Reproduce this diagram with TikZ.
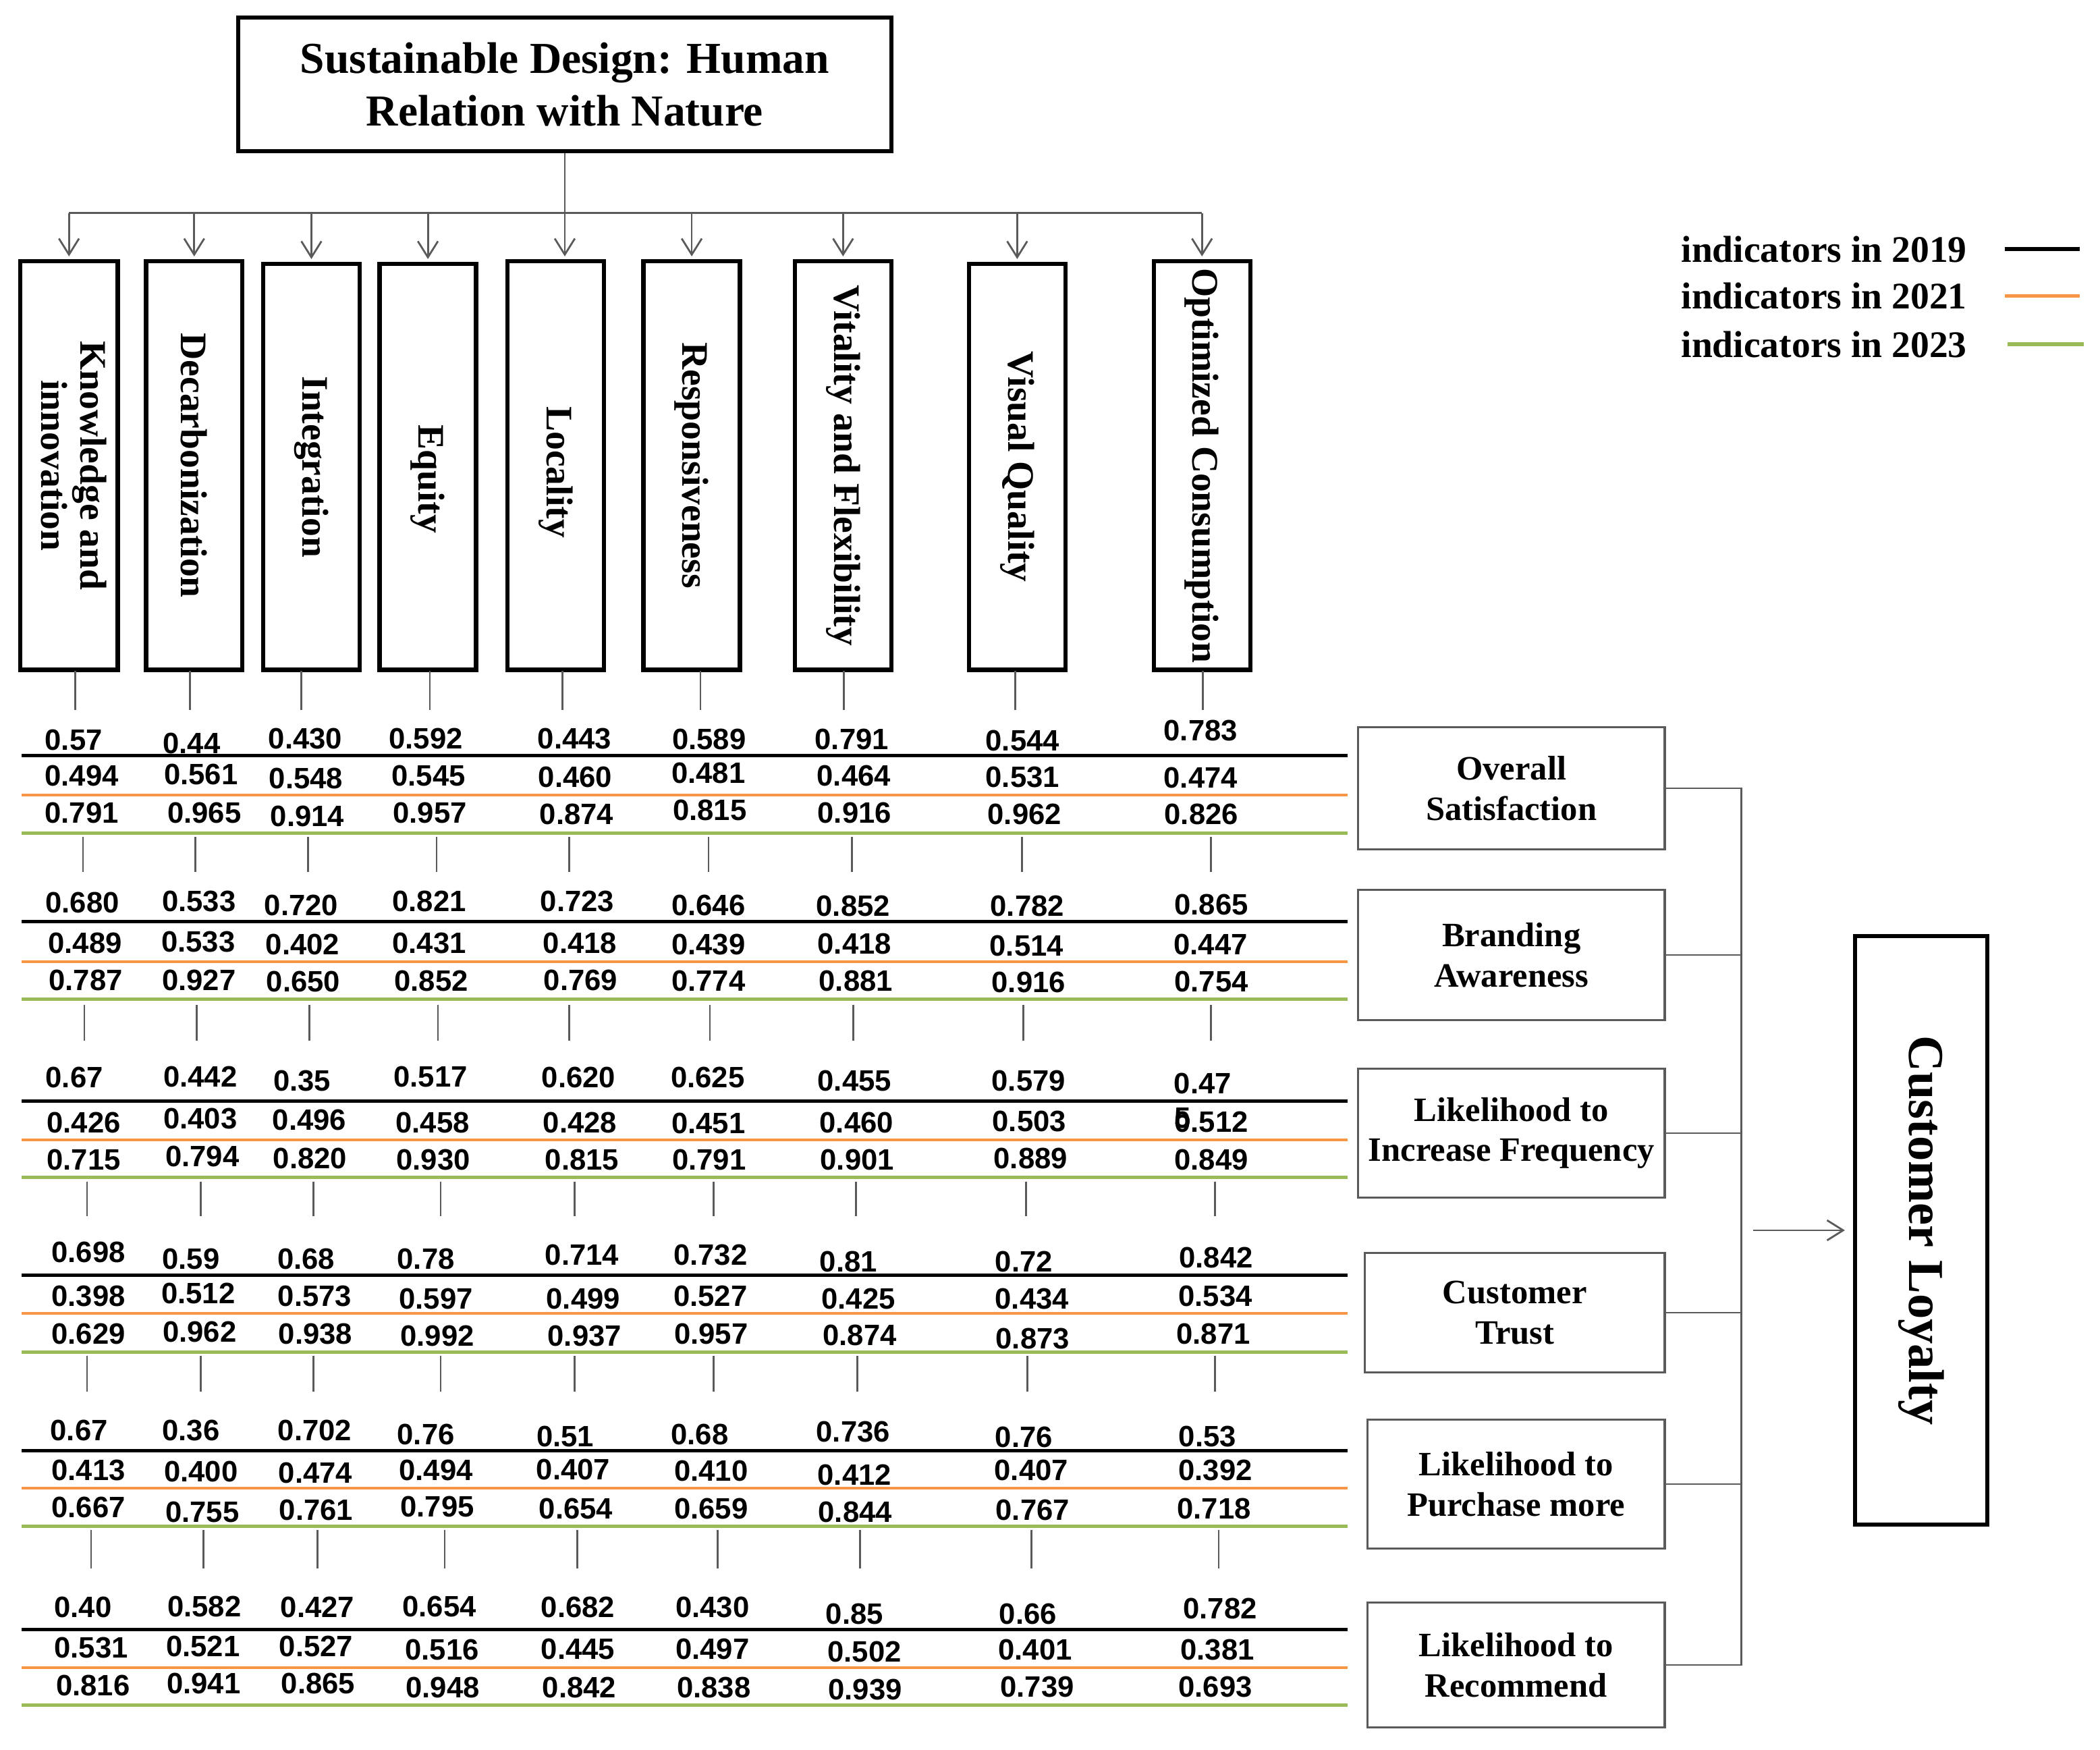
\documentclass[tikz,border=0pt]{standalone}
\usepackage{fontspec}
\setmainfont{Liberation Serif}
\newfontfamily\numfont{Liberation Sans}
\usetikzlibrary{arrows.meta,calc}
\definecolor{lorange}{RGB}{247,150,70}
\definecolor{lgreen}{RGB}{155,187,89}
\definecolor{cgray}{RGB}{90,90,90}
\begin{document}
\begin{tikzpicture}[x=0.5pt,y=-0.5pt,
  conn/.style={draw=cgray,line width=0.7pt},
  arr/.style={-{Straight Barb[length=6pt,width=7.5pt]}},
  tbox/.style={draw=black,line width=1.6pt,inner sep=0pt,align=center,
     font=\fontsize{16.5}{19.5}\selectfont\bfseries},
  vbox/.style={draw=black,line width=1.6pt,inner sep=0pt,minimum width=36pt,
     font=\fontsize{14}{14.5}\selectfont\bfseries},
  rbox/.style={draw=cgray,line width=0.8pt,inner sep=0pt,align=center,
     font=\fontsize{12.75}{15}\selectfont\bfseries},
  lbox/.style={draw=black,line width=1.5pt,inner sep=0pt,
     font=\fontsize{18.75}{20}\selectfont\bfseries},
  legtext/.style={anchor=base west,inner sep=0pt,font=\fontsize{14}{16}\selectfont\bfseries},
  num/.style={inner sep=0pt,anchor=center,font=\numfont\bfseries\fontsize{11}{13}\selectfont},
  l19/.style={draw=black,line width=1.1pt},
  l21/.style={draw=lorange,line width=0.9pt},
  l23/.style={draw=lgreen,line width=1.1pt}]
\fill[white] (0,0) rectangle (1568,1306);
\useasboundingbox (0,0) rectangle (1568,1306);

% title
\node[tbox,minimum width=244pt,minimum height=50pt] (title) at (421.7,63)
  {Sustainable Design: Human\\Relation with Nature};

% vertical indicator boxes
\node[vbox,minimum width=36.5pt,minimum height=152.5pt] (k1) at (51.5,347.5)
  {\rotatebox{-90}{\begin{tabular}{@{}c@{}}Knowledge and\\innovation\end{tabular}}};
\node[vbox,minimum height=152.5pt] (k2) at (145,347.5) {\rotatebox{-90}{Decarbonization}};
\node[vbox,minimum height=151.5pt] (k3) at (232.5,348.5) {\rotatebox{-90}{Integration}};
\node[vbox,minimum height=151.5pt] (k4) at (319.5,348.5) {};
\node[vbox,minimum height=152.5pt] (k5) at (415,347.5) {};
\node[vbox,minimum height=152.5pt] (k6) at (516.5,347.5) {\rotatebox{-90}{Responsiveness}};
\node[vbox,minimum height=152.5pt] (k7) at (629.5,347.5) {\rotatebox{-90}{Vitality and Flexibility}};
\node[vbox,minimum height=151.5pt] (k8) at (759.5,348.5) {\rotatebox{-90}{Visual Quality}};
\node[vbox,minimum height=152.5pt] (k9) at (897.5,347.5) {\rotatebox{-90}{Optimized Consumption}};
\node[inner sep=0pt,font=\fontsize{14}{14.5}\selectfont\bfseries] (k4t) at ([yshift=-4.5pt]k4.center) {\rotatebox{-90}{Equity}};
\node[inner sep=0pt,font=\fontsize{14}{14.5}\selectfont\bfseries] (k5t) at ([yshift=-2.5pt]k5.center) {\rotatebox{-90}{Locality}};

% tree connectors
\coordinate (barY) at (0,159);
\draw[conn] (title.south) -- (title.south |- barY);
\draw[conn] (k1.north |- barY) -- (k9.north |- barY);
\foreach \k in {1,2,3,4,6,7,8,9}
  \draw[conn,arr,shorten >=1pt] (k\k.north |- barY) -- (k\k.north);
\draw[conn,arr,shorten >=1pt] (title.south |- barY) -- (title.south |- k5.north);

% legend
\node[legtext] (lg19) at (1255,195.7) {indicators in 2019};
\node[legtext] (lg21) at (1255,230.5) {indicators in 2021};
\node[legtext] (lg23) at (1255,267) {indicators in 2023};
\draw[l19,line width=1.4pt] (1497,186) -- (1553,186);
\draw[l21,line width=1.4pt] (1497,221) -- (1553,221);
\draw[l23,line width=1.4pt] (1499,257) -- (1556,257);

% right boxes
\node[rbox,minimum width=114.5pt,minimum height=45.5pt] (r1) at (1128.5,588.5) {Overall\\Satisfaction};
\node[rbox,minimum width=114.5pt,minimum height=48.5pt] (r2) at (1128.5,713) {Branding\\Awareness};
\node[rbox,minimum width=114.5pt,minimum height=48pt] (r3) at (1128.5,846) {Likelihood to\\Increase Frequency};
\node[rbox,minimum width=112pt,minimum height=44.5pt] (r4) at (1131,980) {Customer\\Trust};
\node[rbox,minimum width=111pt,minimum height=48pt] (r5) at (1132,1108) {Likelihood to\\Purchase more};
\node[rbox,minimum width=111pt,minimum height=46.5pt] (r6) at (1132,1243) {Likelihood to\\Recommend};
\node[lbox,minimum width=49.5pt,minimum height=219.5pt] (loyal) at (1434.5,918.5) {\rotatebox{-90}{Customer Loyalty}};

\coordinate (brx) at (1300,0);
\draw[conn] (r1.east) -- (r1.east -| brx) -- (r6.east -| brx) -- (r6.east);
\foreach \r in {2,3,4,5} \draw[conn] (r\r.east) -- (r\r.east -| brx);
\coordinate (arrS) at (1309,918.5);
\draw[conn,arr,shorten >=3pt] (arrS) -- (loyal.west);

% coloured separator lines
\foreach \b/\ya/\yb/\yc in {1/564/593.5/622, 2/688/718/746, 3/822/851/879,
                            4/952/980.5/1009.5, 5/1083/1111/1139.5, 6/1216.5/1245/1273}{
  \draw[l19] (16,\ya) -- (1006,\ya);
  \draw[l21] (16,\yb) -- (1006,\yb);
  \draw[l23] (16,\yc) -- (1006,\yc);
}

% short vertical connectors
\foreach \x in {56,142,225,321,420,523,630,758,898} \draw[conn] (\x,501) -- (\x,530);
\foreach \x in {62,146,230,326,425,529,636,763,904} \draw[conn] (\x,625) -- (\x,651);
\foreach \x in {63,147,231,327,425,530,637,764,904} \draw[conn] (\x,750) -- (\x,777);
\foreach \x in {65,150,234,329,429,533,639,766,907} \draw[conn] (\x,882) -- (\x,908);
\foreach \x in {65,150,234,329,429,533,640,767,907} \draw[conn] (\x,1012) -- (\x,1039);
\foreach \x in {68,152,237,332,431,536,642,770,910} \draw[conn] (\x,1142) -- (\x,1171);

% numbers
\foreach \v/\x/\y [count=\i] in {0.57/55/552.5, 0.44/143/555, 0.430/228/551.5, 0.592/318/551.5, 0.443/429/551.5, 0.589/529.5/552, 0.791/636/552, 0.544/763.5/553, 0.783/896.5/545.5}
  \node[num] (a1-\i) at (\x,\y) {\v};
\foreach \v/\x/\y [count=\i] in {0.494/61/579, 0.561/150/578, 0.548/228.5/581, 0.545/320/579, 0.460/429.5/580, 0.481/529/577, 0.464/637.5/579, 0.531/763.5/580, 0.474/896.5/580.5}
  \node[num] (b1-\i) at (\x,\y) {\v};
\foreach \v/\x/\y [count=\i] in {0.791/61/607, 0.965/152.5/607, 0.914/229.5/609.5, 0.957/321/607, 0.874/430.5/608, 0.815/530/605, 0.916/638/607, 0.962/765/608, 0.826/897/608}
  \node[num] (c1-\i) at (\x,\y) {\v};

\foreach \v/\x/\y [count=\i] in {0.680/61.5/674, 0.533/148.5/673, 0.720/225/676, 0.821/320.5/673, 0.723/431/673, 0.646/529/676, 0.852/637/676.5, 0.782/767/676.5, 0.865/904.5/675.5}
  \node[num] (a2-\i) at (\x,\y) {\v};
\foreach \v/\x/\y [count=\i] in {0.489/63.5/704, 0.533/148/703, 0.402/226/705, 0.431/320.5/704, 0.418/433/704, 0.439/529/705, 0.418/638/704.5, 0.514/766.5/706, 0.447/904/705}
  \node[num] (b2-\i) at (\x,\y) {\v};
\foreach \v/\x/\y [count=\i] in {0.787/64/732, 0.927/148.5/732, 0.650/226.5/733, 0.852/322/732.5, 0.769/433.5/732, 0.774/529/732.5, 0.881/639/732.5, 0.916/768/733.5, 0.754/904.5/733}
  \node[num] (c2-\i) at (\x,\y) {\v};

\foreach \v/\x/\y [count=\i] in {0.67/55.5/804.5, 0.442/149.5/804, 0.35/225.5/807, 0.517/321.5/804, 0.620/432/804.5, 0.625/528.5/804.5, 0.455/638/807, 0.579/768/807, 0.47/898/809}
  \node[num] (a3-\i) at (\x,\y) {\v};
\foreach \v/\x/\y [count=\i] in {0.426/62.5/838, 0.403/149.5/835, 0.496/231/836, 0.458/323/838, 0.428/433/838, 0.451/529/838.5, 0.460/639.5/838, 0.503/768.5/837}
  \node[num] (b3-\i) at (\x,\y) {\v};
\node[num,anchor=base] (b3-9) at (904.5,845) {\makebox[0pt][l]{\raisebox{1.5pt}{5}}0.512};
\foreach \v/\x/\y [count=\i] in {0.715/62.5/866, 0.794/151/863.5, 0.820/231.5/865, 0.930/323.5/866, 0.815/434.5/866, 0.791/529.5/866, 0.901/640/866, 0.889/769.5/865, 0.849/904.5/866}
  \node[num] (c3-\i) at (\x,\y) {\v};

\foreach \v/\x/\y [count=\i] in {0.698/66/935, 0.59/142.5/940, 0.68/228.5/940, 0.78/318/940, 0.714/434.5/937, 0.732/530.5/937, 0.81/633.5/942, 0.72/764.5/942, 0.842/908/939}
  \node[num] (a4-\i) at (\x,\y) {\v};
\foreach \v/\x/\y [count=\i] in {0.398/66/967.5, 0.512/148/965.5, 0.573/235/967.5, 0.597/325.5/969.5, 0.499/435.5/969.5, 0.527/530.5/967.5, 0.425/641/969.5, 0.434/770.5/969.5, 0.534/907.5/967.5}
  \node[num] (b4-\i) at (\x,\y) {\v};
\foreach \v/\x/\y [count=\i] in {0.629/66/996, 0.962/149/994.5, 0.938/235.5/996, 0.992/326.5/997.5, 0.937/436.5/997.5, 0.957/531/996, 0.874/642/997, 0.873/771/999.5, 0.871/906/996}
  \node[num] (c4-\i) at (\x,\y) {\v};

\foreach \v/\x/\y [count=\i] in {0.67/59/1068, 0.36/142.5/1068, 0.702/235/1068, 0.76/318/1071, 0.51/422/1072.5, 0.68/522.5/1071, 0.736/637/1069, 0.76/764.5/1073, 0.53/901.5/1072.5}
  \node[num] (a5-\i) at (\x,\y) {\v};
\foreach \v/\x/\y [count=\i] in {0.413/66/1097.5, 0.400/150/1098.5, 0.474/235.5/1099.5, 0.494/325.5/1097.5, 0.407/428/1097, 0.410/531/1098, 0.412/638/1101, 0.407/770/1097.5, 0.392/907.5/1097.5}
  \node[num] (b5-\i) at (\x,\y) {\v};
\foreach \v/\x/\y [count=\i] in {0.667/66/1125.5, 0.755/151/1129, 0.761/236/1127.5, 0.795/326.5/1125, 0.654/430/1126.5, 0.659/531/1126.5, 0.844/638.5/1129, 0.767/771/1127.5, 0.718/906.5/1126.5}
  \node[num] (c5-\i) at (\x,\y) {\v};

\foreach \v/\x/\y [count=\i] in {0.40/62/1200, 0.582/152.5/1199.5, 0.427/237/1200, 0.654/328/1199.5, 0.682/431.5/1200, 0.430/532/1200, 0.85/638/1205, 0.66/767.5/1205, 0.782/911/1201}
  \node[num] (a6-\i) at (\x,\y) {\v};
\foreach \v/\x/\y [count=\i] in {0.531/68/1230, 0.521/151.5/1229, 0.527/236/1229, 0.516/330/1231.5, 0.445/431.5/1231, 0.497/532/1231, 0.502/645.5/1233, 0.401/773/1231.5, 0.381/909/1231.5}
  \node[num] (b6-\i) at (\x,\y) {\v};
\foreach \v/\x/\y [count=\i] in {0.816/69.5/1258.5, 0.941/152/1257, 0.865/237.5/1257, 0.948/330.5/1260, 0.842/432.5/1260, 0.838/533/1260, 0.939/646/1261.5, 0.739/774.5/1259.5, 0.693/907.5/1259.5}
  \node[num] (c6-\i) at (\x,\y) {\v};
\end{tikzpicture}
\end{document}
